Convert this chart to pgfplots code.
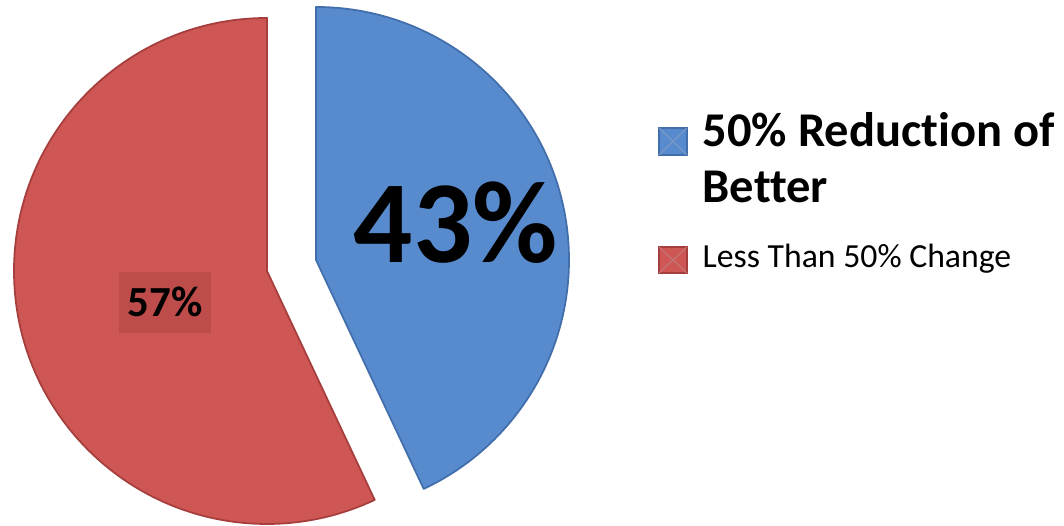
\documentclass[border=0pt]{standalone}
\usepackage{pgfplots}
\usepackage{pgfplotstable}
\pgfplotsset{compat=1.18}
\usepackage{fontspec}
\setmainfont[Ligatures=NoCommon]{Carlito}
\definecolor{pieblue}{RGB}{88,139,205}
\definecolor{pieblueD}{RGB}{66,110,172}
\definecolor{piered}{RGB}{206,86,84}
\definecolor{pieredD}{RGB}{165,62,60}
\definecolor{boxred}{RGB}{190,76,74}
\pgfplotstableread{
label value
Reduction 43
Less 57
}\piedata
\pgfplotstablegetelem{0}{value}\of\piedata \let\va\pgfplotsretval
\pgfplotstablegetelem{1}{value}\of\piedata \let\vb\pgfplotsretval
\pgfmathsetmacro{\angA}{3.6*\va}
\pgfmathsetmacro{\angB}{3.6*\vb}
\begin{document}
\begin{tikzpicture}
\begin{axis}[
  scale only axis, width=10.64cm, height=5.26cm,
  xmin=0, xmax=1064, ymin=0, ymax=526,
  hide axis, clip=false]
\path (axis cs:0,0) rectangle (axis cs:1064,526);
% red slice (57%)
\fill[piered, draw=pieredD, line width=0.5pt, line join=round]
  (axis cs:267,255) -- ++(90:2.53cm) arc[start angle=90, delta angle=\angB, radius=2.53cm] -- cycle;
% blue slice (43%), exploded
\fill[pieblue, draw=pieblueD, line width=0.5pt, line join=round]
  (axis cs:316,266) -- ++(90:2.53cm) arc[start angle=90, delta angle=-\angA, radius=2.53cm] -- cycle;
% labels
\node[anchor=base west, inner sep=0pt, font=\fontsize{33.3}{36}\selectfont\bfseries] at (axis cs:353,263) {\va\%};
\fill[boxred] (axis cs:119,193) rectangle (axis cs:211,254);
\node[anchor=base, inner sep=0pt, font=\fontsize{12.2}{14}\selectfont\bfseries] at (axis cs:165,209) {\vb\%};
% legend
\fill[pieblue, draw=pieblueD, line width=0.4pt] (axis cs:659,371) rectangle (axis cs:687,398);
\draw[pieblueD!70, line width=0.3pt] (axis cs:659,371) -- (axis cs:687,398) (axis cs:659,398) -- (axis cs:687,371);
\fill[piered, draw=pieredD, line width=0.4pt] (axis cs:659,253) rectangle (axis cs:687,279);
\draw[pieredD!70, line width=0.3pt] (axis cs:659,253) -- (axis cs:687,279) (axis cs:659,279) -- (axis cs:687,253);
\node[anchor=base west, inner sep=0pt, font=\fontsize{13.8}{15}\selectfont\bfseries] at (axis cs:702,379) {50\% Reduction of};
\node[anchor=base west, inner sep=0pt, font=\fontsize{13.8}{15}\selectfont\bfseries] at (axis cs:702,323) {Better};
\node[anchor=base west, inner sep=0pt, font=\fontsize{9.6}{11}\selectfont] at (axis cs:702,258) {Less Than 50\% Change};
\end{axis}
\end{tikzpicture}
\end{document}
